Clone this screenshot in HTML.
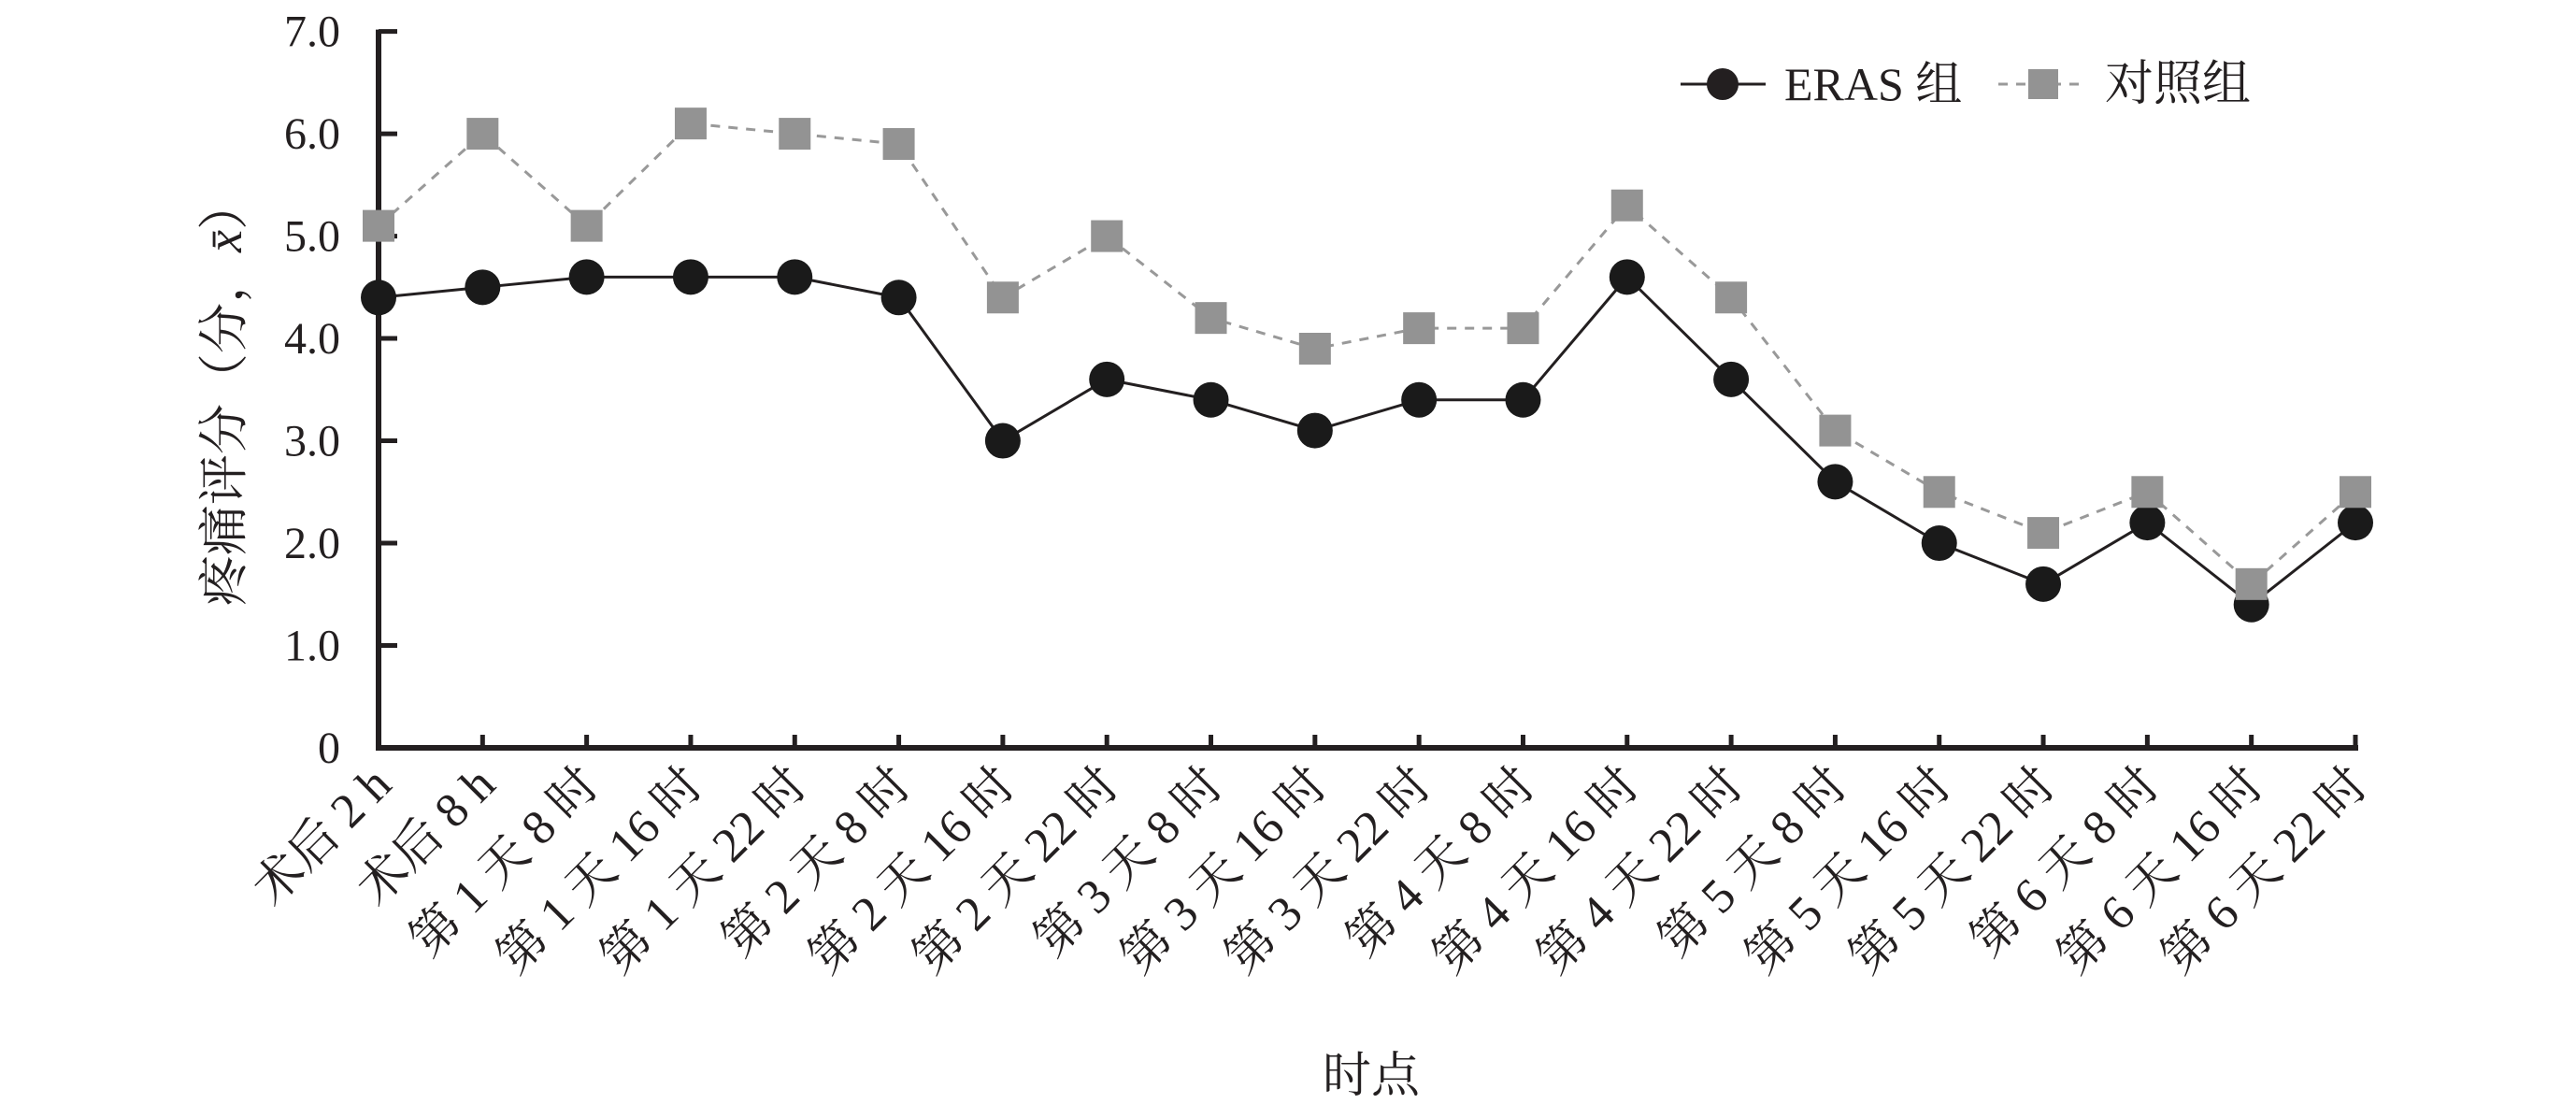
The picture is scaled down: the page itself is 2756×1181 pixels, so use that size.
<!DOCTYPE html>
<html><head><meta charset="utf-8"><style>
html,body{margin:0;padding:0;background:#fff;}
svg{display:block;}
text{font-family:"Liberation Serif","Noto Serif CJK SC",serif;fill:#231f20;}
</style></head><body>
<svg id="chart" width="2756" height="1181" viewBox="0 0 2756 1181" xmlns="http://www.w3.org/2000/svg">
<g id="axes"></g>
<g id="series"></g>
<g>
  <line x1="1798" y1="90" x2="1889" y2="90" stroke="#231f20" stroke-width="3"/>
  <circle cx="1843" cy="90" r="17" fill="#231f20"/>
  <text x="1909" y="107" font-size="50">ERAS 组</text>
  <line x1="2138" y1="90" x2="2232" y2="90" stroke="#999" stroke-width="3" stroke-dasharray="10,9"/>
  <rect x="2170" y="74" width="32" height="32" fill="#939393"/>
  <text x="2252" y="107" font-size="52">对照组</text>
</g>
<text font-size="54" text-anchor="middle" transform="translate(258,420) rotate(-90)">疼痛评分（分，<tspan font-style="italic">x̄</tspan>）</text>
<text x="1467" y="1168" font-size="52" text-anchor="middle">时点</text>
</svg>
<script>
const categories = ["术后 2 h","术后 8 h","第 1 天 8 时","第 1 天 16 时","第 1 天 22 时","第 2 天 8 时","第 2 天 16 时","第 2 天 22 时","第 3 天 8 时","第 3 天 16 时","第 3 天 22 时","第 4 天 8 时","第 4 天 16 时","第 4 天 22 时","第 5 天 8 时","第 5 天 16 时","第 5 天 22 时","第 6 天 8 时","第 6 天 16 时","第 6 天 22 时"];
const erasValues = [4.4,4.5,4.6,4.6,4.6,4.4,3.0,3.6,3.4,3.1,3.4,3.4,4.6,3.6,2.6,2.0,1.6,2.2,1.4,2.2];
const controlValues = [5.1,6.0,5.1,6.1,6.0,5.9,4.4,5.0,4.2,3.9,4.1,4.1,5.3,4.4,3.1,2.5,2.1,2.5,1.6,2.5];
const yTicks = [0,1,2,3,4,5,6,7];
const yTickLabels = ["0","1.0","2.0","3.0","4.0","5.0","6.0","7.0"];

const NS="http://www.w3.org/2000/svg";
const X0=405, X1=2520, Y0=800, Y1=33.6, YMAX=7;
function xs(i){return X0+(X1-X0)*i/(categories.length-1);}
function ys(v){return Y0-(Y0-Y1)*v/YMAX;}
function mk(tag,attrs,parent){const e=document.createElementNS(NS,tag);for(const k in attrs)e.setAttribute(k,attrs[k]);parent.appendChild(e);return e;}
const axes=document.getElementById('axes');
const series=document.getElementById('series');

let a=mk('line',{x1:X0,y1:Y1-2,x2:X0,y2:Y0+2,stroke:'#231f20','stroke-width':6},axes);


a=mk('line',{x1:X0-3,y1:Y0,x2:X1+3,y2:Y0,stroke:'#231f20','stroke-width':6},axes);



yTicks.forEach((v,i)=>{
  const t=mk('line',{x1:X0,y1:ys(v),x2:X0+20,y2:ys(v),stroke:'#231f20','stroke-width':5},axes);
  
  
  const l=mk('text',{x:364,y:ys(v)+16,'font-size':48,'text-anchor':'end'},axes);
  l.textContent=yTickLabels[i];
  
  
});
categories.forEach((c,i)=>{
  const x=xs(i);
  if(i>0){
    const t=mk('line',{x1:x,y1:Y0,x2:x,y2:Y0-14,stroke:'#231f20','stroke-width':5},axes);
    
    
  }
  const l=mk('text',{'font-size':52,'text-anchor':'end',transform:`translate(${x+16},${842}) rotate(-45)`},axes);
  l.textContent=c;
  
  
});

function pts(vals){return vals.map((v,i)=>xs(i)+','+ys(v)).join(' ');}
let pl=mk('polyline',{points:pts(controlValues),fill:'none',stroke:'#999','stroke-width':3,'stroke-dasharray':'10,9'},series);


pl=mk('polyline',{points:pts(erasValues),fill:'none',stroke:'#231f20','stroke-width':3},series);


erasValues.forEach((v,i)=>{
  const c=mk('circle',{cx:xs(i),cy:ys(v),r:19,fill:'#1a1a1a'},series);
  
  
});
controlValues.forEach((v,i)=>{
  const r=mk('rect',{x:xs(i)-17,y:ys(v)-17,width:34,height:34,fill:'#939393'},series);
  
  
});
</script>
</body></html>
